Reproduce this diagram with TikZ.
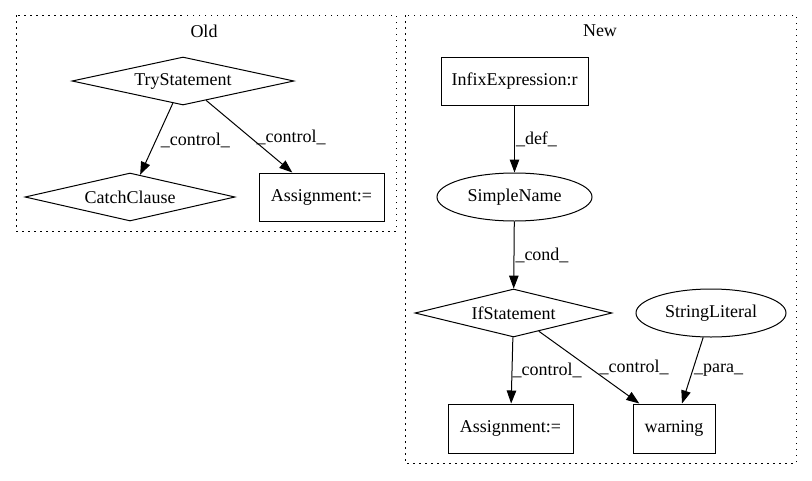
\documentclass[tikz,border=0pt]{standalone}
\usepackage{fontspec}
\setmainfont{Liberation Serif}
\usetikzlibrary{shapes.geometric,arrows.meta}
\begin{document}
\begin{tikzpicture}[x=1pt,y=-1pt,
  font=\fontsize{18}{20}\selectfont,
  line width=1pt,
  rectbox/.style={draw, rectangle, inner sep=0pt, minimum height=48pt},
  diabox/.style={draw, diamond, aspect=4.6, inner sep=0pt, minimum height=48pt},
  ellbox/.style={draw, ellipse, inner sep=0pt, minimum height=48pt},
  cluster/.style={draw, line width=1pt, dash pattern=on 1.5pt off 4.5pt},
  arr/.style={-{Triangle[length=13pt,width=9.5pt]}},
  lbl/.style={anchor=west, inner sep=0pt, pos=0.5}
]
\useasboundingbox (0,0) rectangle (812,480);
% clusters
\draw[cluster] (16,15) rectangle (396,231);
\draw[cluster] (405,15) rectangle (796,463);
\node (oldlbl) at (204,31) {Old};
\node (newlbl) at (600,31) {New};
% Old
\node[diabox, minimum width=222pt] (try) at (183,81) {TryStatement};
\node[diabox, minimum width=210pt] (catch) at (130,197) {CatchClause};
\node[rectbox, minimum width=125pt] (oassign) at (321.5,197) {Assignment:=};
\draw[arr] (try) -- (catch) node[lbl, xshift=4pt, yshift=-1pt] {\_control\_};
\draw[arr] (try) -- (oassign) node[lbl, xshift=7pt, yshift=-1pt] {\_control\_};
% New
\node[rectbox, minimum width=147pt] (infix) at (514.5,81) {InfixExpression:r};
\node[ellbox, minimum width=155pt] (sname) at (514.5,197) {SimpleName};
\node[diabox, minimum width=197pt] (ifst) at (513.5,313) {IfStatement};
\node[ellbox, minimum width=150pt] (slit) at (711,313) {StringLiteral};
\node[rectbox, minimum width=125pt, minimum height=49pt] (nassign) at (510.5,428.5) {Assignment:=};
\node[rectbox, minimum width=82pt, minimum height=49pt] (warn) at (674,428.5) {warning};
\draw[arr] (infix) -- (sname) node[lbl, xshift=1pt] {\_def\_};
\draw[arr] (sname) -- (ifst) node[lbl, xshift=1pt] {\_cond\_};
\draw[arr] (ifst) -- (nassign) node[lbl, xshift=0pt] {\_control\_};
\draw[arr] (ifst) -- (warn) node[lbl, xshift=10pt] {\_control\_};
\draw[arr] (slit) -- (warn) node[lbl, xshift=1pt] {\_para\_};
\end{tikzpicture}
\end{document}
